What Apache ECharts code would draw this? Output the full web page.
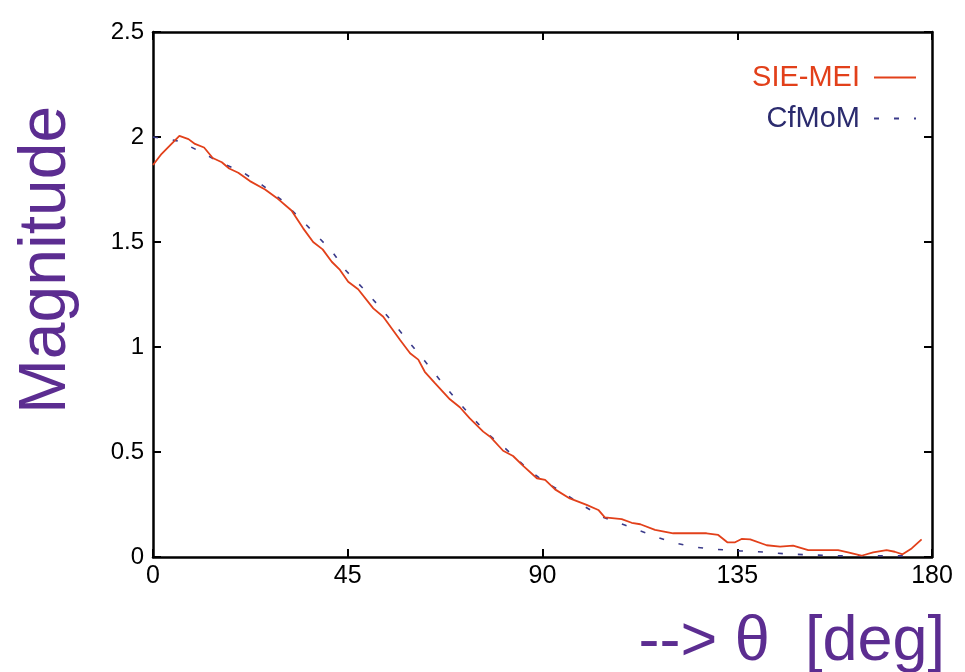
<!DOCTYPE html>
<html>
<head>
<meta charset="utf-8">
<script src="https://cdn.jsdelivr.net/npm/echarts@6/dist/echarts.min.js"></script>
<style>html,body{margin:0;padding:0;background:#fff}#c{width:965px;height:672px}</style>
</head>
<body>
<div id="c"></div>
<script>
// ---- data ----
const sieDeg = [0,2,6.1,8.2,9.7,11.8,13.8,15.9,17.6,19.7,22.4,25.9,28.6,32,34.7,37,39.2,41.3,43.2,45.1,47.4,50.9,53.2,57.1,59.4,61.3,62.8,65.2,68.6,70.9,73.2,76.3,77.9,80.9,83.2,85.6,88.7,90.6,92.9,96.3,100.2,102.9,104.4,108.3,110.6,112.6,116,120.2,127.9,130.6,132.7,134.5,136,138,141.8,144.9,147.9,151.4,158.3,160.6,163.7,166.4,169.5,171.4,173.2,175.3,177.6];
const sieVal = [1.867,1.92,2.005,1.99,1.967,1.95,1.90,1.88,1.85,1.83,1.79,1.75,1.71,1.65,1.565,1.50,1.465,1.406,1.367,1.311,1.275,1.184,1.144,1.033,0.97,0.94,0.882,0.827,0.751,0.713,0.66,0.597,0.573,0.506,0.481,0.433,0.375,0.367,0.322,0.279,0.248,0.224,0.189,0.18,0.163,0.156,0.129,0.113,0.113,0.105,0.07,0.07,0.086,0.084,0.056,0.049,0.054,0.033,0.033,0.022,0.006,0.022,0.033,0.025,0.013,0.041,0.084];
const cfmDeg = [0,6.2,10.9,15.5,20.9,25.3,29.7,33.6,37.4,41.3,44.6,48.4,52.1,55.7,59.2,62.8,66.3,69.8,73.4,77.2,81.4,85.6,89.8,94.4,99.1,103.7,109,114.1,119.4,124.4,129.8,135.6,141,146.8,152.2,158,163.4,168.7,175];
const cfmVal = [2.0,1.98,1.93,1.88,1.83,1.77,1.70,1.62,1.54,1.457,1.363,1.282,1.197,1.11,1.022,0.933,0.843,0.756,0.673,0.589,0.517,0.438,0.367,0.311,0.248,0.192,0.152,0.113,0.073,0.049,0.037,0.029,0.024,0.014,0.01,0.006,0.006,0.006,0.005];
const xTicks = [0,45,90,135,180];
const yTicks = [0,0.5,1,1.5,2,2.5];
const seriesNames = ['SIE-MEI','CfMoM'];
const xTitle = '--> θ  [deg]';
const yTitle = 'Magnitude';

const RED = '#e2401a', BLUE = '#3a3a8a', BLUE_TXT = '#2b2b6e', PURPLE = '#5c2d91';
const chart = echarts.init(document.getElementById('c'), null, {renderer:'canvas'});
const font = 'Liberation Sans, Arial, Helvetica, sans-serif';
const axisLine = {show:true, onZero:false, lineStyle:{color:'#000', width:2.5}};
const tick = {show:true, inside:true, length:8, lineStyle:{color:'#000', width:2}};
const xStep = xTicks[1]-xTicks[0], yStep = yTicks[1]-yTicks[0];

chart.setOption({
  animation:false,
  backgroundColor:'#fff',
  grid:{left:153, right:33, top:32, bottom:115, containLabel:false, outerBoundsMode:'none'},
  legend:{
    right:43, top:58, orient:'vertical', align:'right', itemWidth:42, itemHeight:14, itemGap:12,
    itemStyle:{opacity:0},
    textStyle:{fontFamily:font, fontSize:29, padding:[0,9,0,0]},
    data:[
      {name:seriesNames[0], textStyle:{color:RED}},
      {name:seriesNames[1], textStyle:{color:BLUE_TXT}}
    ]
  },
  graphic:[
    {type:'text', x:47, y:260, rotation:Math.PI/2,
     style:{text:yTitle, fill:PURPLE, font:'66px ' + font, align:'center', verticalAlign:'middle'}}
  ],
  xAxis:[
    {type:'value', min:xTicks[0], max:xTicks[xTicks.length-1], interval:xStep, position:'bottom',
     axisLine, axisTick:tick, splitLine:{show:false},
     axisLabel:{color:'#000', fontFamily:font, fontSize:25, margin:7},
     name:xTitle, nameLocation:'end', nameGap:0,
     nameTextStyle:{color:PURPLE, fontFamily:font, fontSize:63, align:'right', verticalAlign:'top', padding:[54,-13,0,0]}},
    {type:'value', min:xTicks[0], max:xTicks[xTicks.length-1], interval:xStep, position:'top',
     axisLine, axisTick:tick, axisLabel:{show:false}, splitLine:{show:false}}
  ],
  yAxis:[
    {type:'value', min:yTicks[0], max:yTicks[yTicks.length-1], interval:yStep, position:'left',
     axisLine, axisTick:tick, splitLine:{show:false},
     axisLabel:{color:'#000', fontFamily:font, fontSize:24, margin:9, padding:[0,0,10,0]}},
    {type:'value', min:yTicks[0], max:yTicks[yTicks.length-1], interval:yStep, position:'right',
     axisLine, axisTick:tick, axisLabel:{show:false}, splitLine:{show:false}}
  ],
  series:[
    {name:seriesNames[0], type:'line', xAxisIndex:0, yAxisIndex:0, symbol:'none', z:3,
     lineStyle:{color:RED, width:1.8}, itemStyle:{color:RED},
     data:sieDeg.map((d,i)=>[d,sieVal[i]])},
    {name:seriesNames[1], type:'line', xAxisIndex:0, yAxisIndex:0, symbol:'none', z:2,
     lineStyle:{color:BLUE, width:1.6, type:[5,15]}, itemStyle:{color:BLUE},
     data:cfmDeg.map((d,i)=>[d,cfmVal[i]])}
  ]
});
</script>
</body>
</html>
